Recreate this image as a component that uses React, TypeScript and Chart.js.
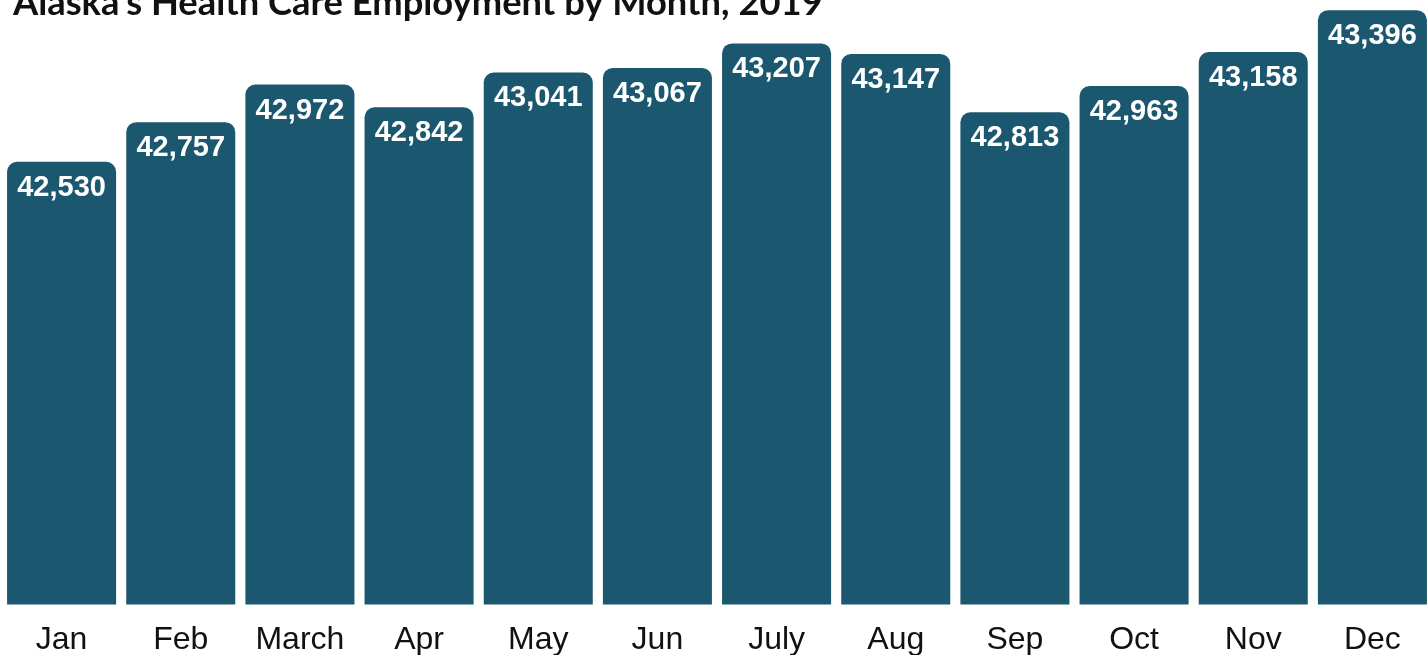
import React, { useEffect, useRef } from "react";
import { Chart, registerables } from "chart.js";

Chart.register(...registerables);

const TITLE = "Alaska's Health Care Employment by Month, 2019";
const MONTHS = ["Jan", "Feb", "March", "Apr", "May", "Jun", "July", "Aug", "Sep", "Oct", "Nov", "Dec"];
const EMPLOYMENT = [42530, 42757, 42972, 42842, 43041, 43067, 43207, 43147, 42813, 42963, 43158, 43396];
const Y_MIN = 40000;
const Y_MAX = 43455;

const BAR_COLOR = "#1b5870";

const valueLabels = {
  id: "valueLabels",
  afterDatasetsDraw(chart: any) {
    const ctx = chart.ctx;
    const meta = chart.getDatasetMeta(0);
    ctx.save();
    ctx.fillStyle = "#ffffff";
    ctx.font = 'bold 29px "Liberation Sans", Arial, sans-serif';
    ctx.textAlign = "center";
    ctx.textBaseline = "middle";
    meta.data.forEach((bar: any, i: number) => {
      const v = chart.data.datasets[0].data[i] as number;
      ctx.fillText(v.toLocaleString("en-US"), bar.x, bar.y + 26);
    });
    ctx.restore();
  },
};

const titlePlugin = {
  id: "topTitle",
  afterDraw(chart: any) {
    const ctx = chart.ctx;
    ctx.save();
    ctx.font = 'bold 100px Lato, "Noto Sans", sans-serif';
    const w = ctx.measureText(TITLE).width;
    const size = (100 * 810) / w;
    ctx.font = `bold ${size}px Lato, "Noto Sans", sans-serif`;
    ctx.fillStyle = "#111111";
    ctx.textAlign = "left";
    ctx.textBaseline = "alphabetic";
    ctx.fillText(TITLE, 13, 15);
    ctx.restore();
  },
};

export default function App() {
  const ref = useRef<HTMLCanvasElement | null>(null);
  useEffect(() => {
    document.body.style.margin = "0";
    document.body.style.overflow = "hidden";
    const chart = new Chart(ref.current!, {
      type: "bar",
      data: {
        labels: MONTHS,
        datasets: [
          {
            data: EMPLOYMENT,
            backgroundColor: BAR_COLOR,
            borderRadius: { topLeft: 10, topRight: 10, bottomLeft: 0, bottomRight: 0 },
            borderSkipped: false,
            barPercentage: 0.915,
            categoryPercentage: 1,
          },
        ],
      },
      options: {
        animation: false,
        responsive: false,
        maintainAspectRatio: false,
        layout: { padding: { left: 2, right: 0, top: 0, bottom: 0 } },
        plugins: { legend: { display: false }, title: { display: false }, tooltip: { enabled: false } },
        scales: {
          x: {
            grid: { display: false, drawTicks: false, tickLength: 0 },
            border: { display: false },
            ticks: {
              padding: 16,
              color: "#111111",
              font: { family: '"Liberation Sans", Arial, sans-serif', size: 32 },
              maxRotation: 0,
              autoSkip: false,
            },
          },
          y: { display: false, min: Y_MIN, max: Y_MAX },
        },
      },
      plugins: [valueLabels, titlePlugin],
    });
    return () => chart.destroy();
  }, []);
  return (
    <div style={{ position: "fixed", left: 0, top: 0, width: 1432, height: 655, overflow: "hidden" }}>
      <canvas ref={ref} width={1432} height={675} style={{ width: 1432, height: 675, display: "block" }} />
    </div>
  );
}
